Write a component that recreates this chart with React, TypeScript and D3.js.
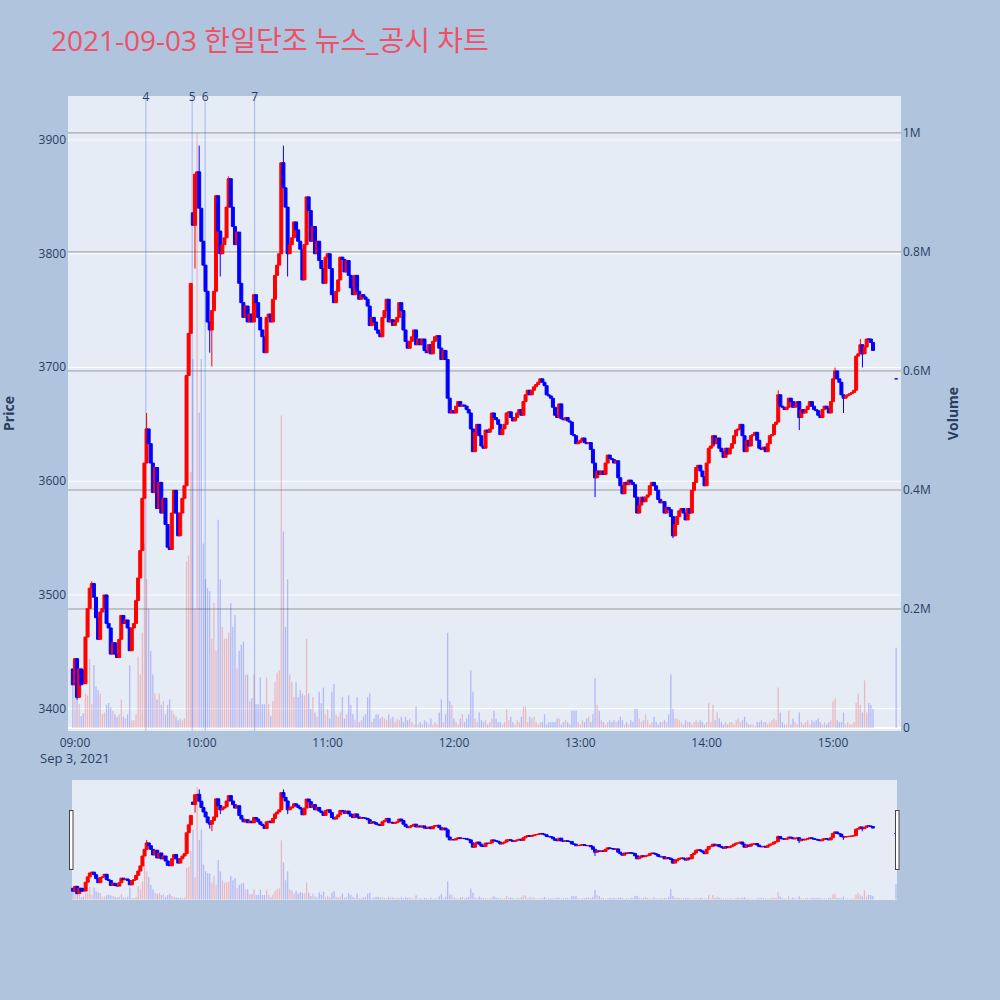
import React from 'react';
import * as d3 from 'd3';

// one candle per minute, first one at 08:59
const startTime = '08:59';
const closes = [
    3421, 3444, 3410, 3435, 3421, 3422, 3463, 3488, 3506, 3510,
    3498, 3480, 3461, 3485, 3488, 3500, 3475, 3471, 3448, 3458,
    3448, 3445, 3461, 3482, 3475, 3478, 3471, 3451, 3471, 3475,
    3495, 3515, 3539, 3585, 3616, 3646, 3633, 3616, 3590, 3612,
    3576, 3599, 3572, 3585, 3562, 3542, 3540, 3572, 3592, 3572,
    3552, 3572, 3585, 3596, 3693, 3730, 3774, 3825, 3870, 3872,
    3840, 3811, 3790, 3767, 3740, 3733, 3750, 3767, 3851, 3820,
    3800, 3808, 3814, 3841, 3866, 3841, 3824, 3808, 3819, 3774,
    3757, 3744, 3754, 3740, 3747, 3740, 3764, 3757, 3744, 3733,
    3727, 3713, 3744, 3747, 3740, 3760, 3781, 3790, 3800, 3880,
    3858, 3841, 3800, 3808, 3814, 3828, 3821, 3811, 3804, 3777,
    3808, 3850, 3838, 3811, 3824, 3800, 3811, 3794, 3787, 3774,
    3797, 3800, 3787, 3764, 3757, 3767, 3777, 3797, 3795, 3784,
    3794, 3781, 3770, 3764, 3781, 3767, 3760, 3764, 3762, 3760,
    3754, 3737, 3744, 3740, 3733, 3730, 3727, 3744, 3750, 3760,
    3740, 3742, 3737, 3740, 3744, 3757, 3750, 3733, 3723, 3717,
    3723, 3727, 3733, 3720, 3725, 3720, 3725, 3715, 3713, 3720,
    3712, 3723, 3727, 3728, 3717, 3707, 3715, 3707, 3673, 3660,
    3662, 3660, 3666, 3670, 3666, 3667, 3666, 3663, 3660, 3646,
    3626, 3643, 3650, 3640, 3631, 3629, 3645, 3643, 3646, 3660,
    3656, 3654, 3650, 3641, 3646, 3650, 3660, 3661, 3656, 3653,
    3656, 3660, 3663, 3658, 3670, 3676, 3680, 3676, 3680, 3683,
    3685, 3687, 3690, 3687, 3684, 3676, 3675, 3673, 3665, 3658,
    3656, 3668, 3655, 3654, 3656, 3653, 3652, 3641, 3640, 3633,
    3634, 3636, 3638, 3634, 3633, 3634, 3628, 3616, 3603, 3609,
    3606, 3609, 3606, 3616, 3623, 3620, 3619, 3616, 3618, 3603,
    3596, 3589, 3599, 3597, 3601, 3599, 3597, 3586, 3572, 3579,
    3586, 3582, 3586, 3588, 3596, 3599, 3596, 3592, 3584, 3581,
    3582, 3572, 3577, 3575, 3569, 3552, 3562, 3569, 3574, 3576,
    3572, 3566, 3576, 3572, 3592, 3599, 3612, 3614, 3609, 3604,
    3596, 3616, 3629, 3631, 3640, 3633, 3638, 3629, 3626, 3621,
    3629, 3624, 3629, 3633, 3640, 3645, 3646, 3650, 3640, 3626,
    3636, 3631, 3640, 3641, 3643, 3636, 3629, 3628, 3630, 3626,
    3633, 3640, 3641, 3650, 3652, 3676, 3666, 3665, 3663, 3665,
    3673, 3670, 3665, 3666, 3670, 3656, 3663, 3660, 3663, 3666,
    3670, 3666, 3663, 3662, 3658, 3656, 3663, 3666, 3664, 3660,
    3670, 3690, 3697, 3690, 3687, 3676, 3673, 3675, 3676, 3677,
    3678, 3680, 3710, 3712, 3720, 3712, 3718, 3725, 3725, 3722,
    3715,
];

// volume in thousands of shares, same minutes as closes
const volumesK = [
    100, 70, 50, 40, 20, 25, 58, 55, 116, 40,
    106, 70, 64, 58, 23, 26, 39, 42, 35, 29,
    23, 19, 23, 48, 19, 16, 23, 106, 13, 13,
    23, 120, 90, 160, 310, 250, 200, 130, 90, 58,
    48, 58, 39, 45, 23, 39, 48, 29, 23, 19,
    13, 16, 13, 16, 280, 290, 430, 620, 200, 1000,
    530, 620, 310, 250, 235, 230, 150, 210, 130, 350,
    250, 170, 150, 150, 160, 210, 170, 190, 100, 130,
    140, 145, 90, 90, 45, 50, 90, 40, 40, 85,
    40, 40, 85, 40, 20, 45, 77, 93, 97, 525,
    330, 170, 250, 90, 77, 52, 77, 52, 64, 58,
    55, 150, 58, 32, 52, 26, 19, 61, 42, 68,
    23, 32, 16, 61, 74, 23, 19, 26, 52, 16,
    23, 55, 39, 23, 13, 52, 10, 13, 19, 23,
    52, 58, 10, 16, 23, 23, 16, 19, 16, 13,
    23, 16, 19, 10, 16, 13, 19, 10, 19, 13,
    16, 10, 6, 36, 6, 10, 6, 13, 10, 6,
    16, 6, 10, 6, 26, 48, 10, 23, 160, 45,
    39, 16, 10, 6, 16, 23, 10, 16, 23, 97,
    61, 16, 10, 26, 13, 10, 13, 6, 10, 16,
    29, 16, 10, 10, 6, 10, 32, 13, 19, 10,
    6, 13, 10, 19, 36, 36, 10, 19, 16, 19,
    10, 6, 10, 10, 23, 6, 10, 10, 10, 10,
    16, 16, 6, 10, 13, 10, 6, 29, 29, 29,
    10, 6, 13, 10, 16, 19, 10, 23, 84, 39,
    29, 13, 10, 6, 10, 13, 10, 13, 10, 13,
    19, 13, 6, 10, 6, 13, 10, 32, 32, 16,
    10, 13, 23, 13, 6, 10, 19, 10, 6, 10,
    10, 13, 10, 23, 90, 32, 16, 16, 13, 10,
    6, 13, 10, 10, 6, 10, 13, 10, 13, 10,
    6, 10, 42, 10, 39, 13, 26, 16, 10, 6,
    10, 6, 10, 10, 6, 13, 16, 10, 13, 19,
    10, 6, 6, 6, 3, 10, 10, 13, 10, 10,
    6, 10, 13, 16, 13, 68, 26, 10, 6, 6,
    29, 6, 16, 10, 6, 26, 10, 6, 10, 13,
    6, 13, 10, 13, 16, 10, 6, 10, 6, 10,
    13, 45, 50, 13, 10, 10, 26, 6, 10, 6,
    6, 10, 42, 58, 39, 26, 80, 26, 42, 39,
    32,
];

// opens differ from the previous close only at these candles
const openGaps: Record<number, number> = { 0: 3435, 5: 3434, 57: 3836 };
const wickHighs: Record<number, number> = { 9: 3512, 35: 3660, 60: 3895, 74: 3868, 100: 3895, 335: 3680, 362: 3700, 374: 3725 };
const wickLows: Record<number, number> = { 2: 3408, 58: 3787, 65: 3713, 66: 3701, 70: 3780, 102: 3780, 248: 3586, 285: 3550, 345: 3645, 366: 3660, 375: 3700 };

// closing auction
const auctionTime = '15:30';
const auctionPrice = 3690;
const auctionVolumeK = 135;

const newsTimes = ['09:33:40', '09:55:40', '10:01:50', '10:25:20'];
const newsLabels = ['4', '5', '6', '7'];

const priceTicks = [3400, 3500, 3600, 3700, 3800, 3900];
const volumeTicksK = [0, 200, 400, 600, 800, 1000];
const hourTicks = ['09:00', '10:00', '11:00', '12:00', '13:00', '14:00', '15:00'];

const title = '2021-09-03 한일단조 뉴스_공시 차트';

const UP = '#ff0000';
const DOWN = '#0000ff';
const FONT = "'Open Sans', 'Noto Sans CJK KR', verdana, arial, sans-serif";
const TXT = '#2a3f5f';

const at = (s: string) => {
    const [h, m, sec] = s.split(':').map(Number);
    return new Date(2021, 8, 3, h, m, sec || 0);
};

interface Candle { t: Date; o: number; h: number; l: number; c: number; v: number; }

const start = at(startTime);
const candles: Candle[] = closes.map((c, i) => {
    const o = openGaps[i] ?? (i > 0 ? closes[i - 1] : c);
    return {
        t: d3.timeMinute.offset(start, i),
        o,
        c,
        h: wickHighs[i] ?? Math.max(o, c),
        l: wickLows[i] ?? Math.min(o, c),
        v: volumesK[i],
    };
});
candles.push({ t: at(auctionTime), o: auctionPrice, h: auctionPrice, l: auctionPrice, c: auctionPrice, v: auctionVolumeK });

const colorOf = (d: Candle) => (d.c > d.o ? UP : DOWN);

function VolumeBars({ x, yv, barW }: {
    x: (d: Date) => number; yv: d3.ScaleLinear<number, number>; barW: number;
}) {
    return (
        <g>
            {candles.map((d, i) => (
                <rect key={i} x={x(d.t) - barW / 2} width={barW}
                    y={yv(d.v)} height={Math.max(0, yv(0) - yv(d.v))}
                    fill={colorOf(d)} fillOpacity={0.22} />
            ))}
        </g>
    );
}

function Bodies({ x, y, bodyW }: { x: (d: Date) => number; y: d3.ScaleLinear<number, number>; bodyW: number }) {
    return (
        <g>
            {candles.map((d, i) => {
                const cx = x(d.t);
                const y1 = y(Math.max(d.o, d.c));
                const y2 = y(Math.min(d.o, d.c));
                const path = `M${cx - bodyW / 2},${y1}H${cx + bodyW / 2}V${y2}H${cx - bodyW / 2}Z` +
                    `M${cx},${y(d.h)}V${y1}M${cx},${y2}V${y(d.l)}`;
                const col = colorOf(d);
                return <path key={i} d={path} fill={col} stroke={col} strokeWidth={1} />;
            })}
        </g>
    );
}

export default function App() {
    const plot = { left: 68, right: 901, top: 96, bottom: 731 };
    const slider = { left: 72, right: 897, top: 780, bottom: 900 };

    const x = d3.scaleTime().domain([at('08:56:42'), at('15:32:18')]).range([plot.left, plot.right]);
    const yP = d3.scaleLinear().domain([3380.4, 3938.7]).range([plot.bottom, plot.top]);
    const yV = d3.scaleLinear().domain([-5, 1062]).range([plot.bottom, plot.top]);

    const sx = d3.scaleTime().domain([candles[0].t, candles[candles.length - 1].t]).range([73, 896]);
    const syP = d3.scaleLinear().domain(yP.domain()).range([slider.bottom, slider.top]);
    const syV = d3.scaleLinear().domain(yV.domain()).range([slider.bottom, slider.top]);

    const fmtHM = d3.timeFormat('%H:%M');

    return (
        <svg width={1000} height={1000} style={{ position: 'absolute', left: 0, top: 0 }} fontFamily={FONT}>
            <rect width={1000} height={1000} fill="#b0c4de" />
            <text x={51} y={51} fontSize={28} fill="#ef5068">{title}</text>

            {/* main plot */}
            <rect x={plot.left} y={plot.top} width={plot.right - plot.left} height={plot.bottom - plot.top} fill="#e5ecf6" />
            {priceTicks.map(p => (
                <line key={p} x1={plot.left} x2={plot.right} y1={yP(p)} y2={yP(p)} stroke="#ffffff" strokeWidth={1} />
            ))}
            {volumeTicksK.filter(v => v > 0).map(v => (
                <line key={v} x1={plot.left} x2={plot.right} y1={yV(v)} y2={yV(v)} stroke="#999999" strokeWidth={1} />
            ))}
            <line x1={plot.left} x2={plot.right} y1={yV(0)} y2={yV(0)} stroke="#ffffff" strokeWidth={2} />

            <VolumeBars x={x} yv={yV} barW={1.3} />

            {newsTimes.map((t, i) => (
                <g key={t}>
                    <line x1={x(at(t))} x2={x(at(t))} y1={plot.top} y2={plot.bottom}
                        stroke="royalblue" strokeOpacity={0.4} strokeWidth={1} />
                    <text x={x(at(t))} y={101} fontSize={12} fill={TXT} textAnchor="middle">{newsLabels[i]}</text>
                </g>
            ))}

            <Bodies x={x} y={yP} bodyW={3} />

            {/* axes */}
            {priceTicks.map(p => (
                <text key={p} x={66} y={yP(p) + 4} fontSize={12} fill={TXT} textAnchor="end">{p}</text>
            ))}
            {volumeTicksK.map(v => (
                <text key={v} x={903} y={yV(v) + 4} fontSize={12} fill={TXT}>{v === 0 ? '0' : `${v / 1000}M`}</text>
            ))}
            {hourTicks.map(h => (
                <text key={h} x={x(at(h))} y={747} fontSize={12} fill={TXT} textAnchor="middle">{fmtHM(at(h))}</text>
            ))}
            <text x={x(at(hourTicks[0]))} y={763} fontSize={13} fill={TXT} textAnchor="middle">Sep 3, 2021</text>

            <text transform={`translate(14,${(plot.top + plot.bottom) / 2}) rotate(-90)`} fontSize={14} fontWeight="bold"
                fill={TXT} textAnchor="middle">Price</text>
            <text transform={`translate(958,${(plot.top + plot.bottom) / 2}) rotate(-90)`} fontSize={14} fontWeight="bold"
                fill={TXT} textAnchor="middle">Volume</text>

            {/* range slider */}
            <rect x={slider.left} y={slider.top} width={slider.right - slider.left} height={slider.bottom - slider.top} fill="#e5ecf6" />
            <VolumeBars x={sx} yv={syV} barW={1.3} />
            <Bodies x={sx} y={syP} bodyW={3} />
            <rect x={69.5} y={810.5} width={3.5} height={59} fill="#ffffff" stroke="#444" strokeWidth={1} />
            <rect x={895.5} y={810.5} width={3.5} height={59} fill="#ffffff" stroke="#444" strokeWidth={1} />
        </svg>
    );
}
